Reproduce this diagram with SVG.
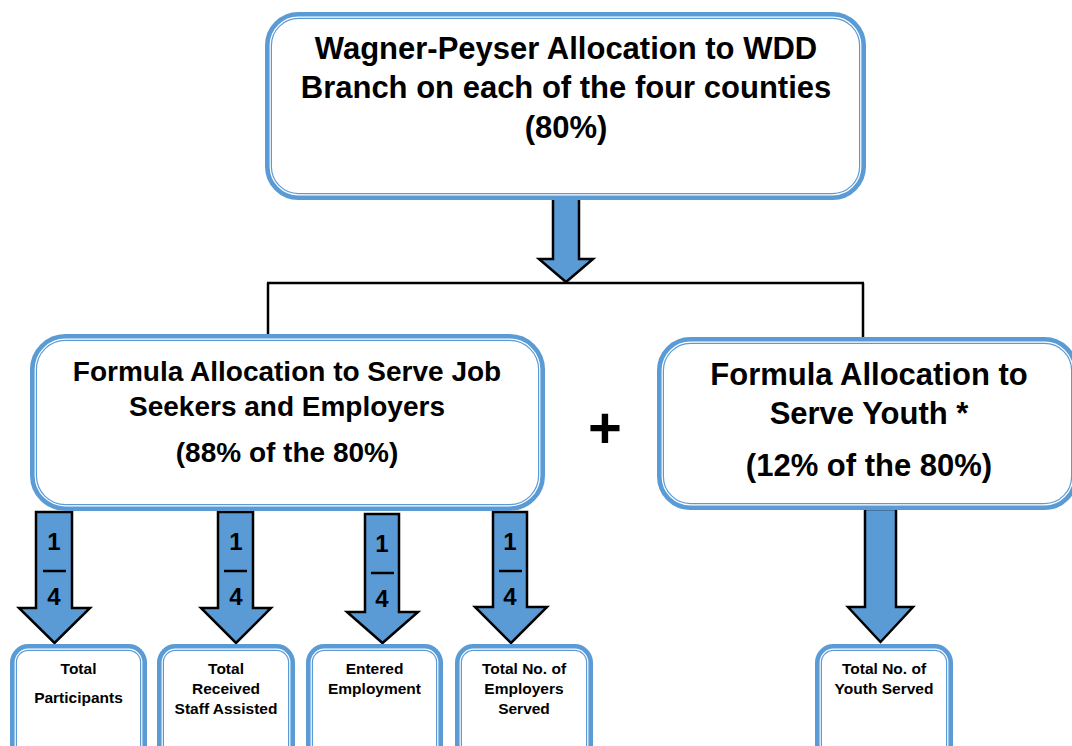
<svg xmlns="http://www.w3.org/2000/svg" width="1072" height="746" viewBox="0 0 1072 746">
<style>
.band{fill:#ffffff;stroke:#5b9bd5;stroke-width:7}
.inner{fill:none;stroke:#ffffff;stroke-width:1.2}
.arrow{fill:#5b9bd5;stroke:#000000;stroke-width:2.5;stroke-linejoin:miter}
.line{fill:none;stroke:#000000;stroke-width:2.5}
.t{font-family:"Liberation Sans",Arial,sans-serif;font-weight:bold;fill:#000000;text-anchor:middle}
.big{font-size:31px}
.mid{font-size:28px}
.mid2{font-size:31px}
.small{font-size:15.5px}
.frac{font-size:24px}
</style>
<rect width="1072" height="746" fill="#ffffff"/>

<g id="connectors">
  <path class="line" d="M267,283 H864"/>
  <path class="line" d="M268,283 V336"/>
  <path class="line" d="M863,283 V339"/>
  <path class="arrow" d="M553,196 H579 V259 H593 L566,282 L539,259 H553 Z"/>
  <path class="arrow" d="M36,512 H72 V608 H90 L54.5,643 L19,608 H36 Z"/>
  <path class="arrow" d="M218,512 H253 V608 H271 L236,643 L201,608 H218 Z"/>
  <path class="arrow" d="M365,514 H399 V612 H418 L382.5,643 L347,612 H365 Z"/>
  <path class="arrow" d="M493,512 H527 V607 H547 L511,643 L475,607 H493 Z"/>
  <path class="arrow" d="M865,509 H896 V607 H913 L880.5,642 L848,607 H865 Z"/>
  <g id="fractions">
    <text class="t frac" x="54" y="550">1</text>
    <path class="line" d="M43,571 H66"/>
    <text class="t frac" x="54" y="605">4</text>
    <text class="t frac" x="236" y="550">1</text>
    <path class="line" d="M224,571 H247"/>
    <text class="t frac" x="236" y="605">4</text>
    <text class="t frac" x="382" y="552">1</text>
    <path class="line" d="M371,573 H394"/>
    <text class="t frac" x="382" y="607">4</text>
    <text class="t frac" x="510" y="550">1</text>
    <path class="line" d="M499,571 H522"/>
    <text class="t frac" x="510" y="605">4</text>
  </g>
</g>

<g id="top">
  <rect class="band" x="268.5" y="15.5" width="594" height="181" rx="30"/>
  <rect class="inner" x="270.2" y="17.2" width="590.6" height="177.6" rx="28.3"/>
  <text class="t big" x="566" y="59">Wagner-Peyser Allocation to WDD</text>
  <text class="t big" x="566" y="98">Branch on each of the four counties</text>
  <text class="t big" x="566" y="138">(80%)</text>
</g>

<g id="jobseekers">
  <rect class="band" x="33.5" y="337.5" width="508" height="170" rx="32"/>
  <rect class="inner" x="35.2" y="339.2" width="504.6" height="166.6" rx="30.3"/>
  <text class="t mid" x="287" y="381">Formula Allocation to Serve Job</text>
  <text class="t mid" x="287" y="416">Seekers and Employers</text>
  <text class="t mid" x="287" y="462">(88% of the 80%)</text>
</g>

<g id="plus">
  <text class="t" style="font-size:58px" x="605" y="448">+</text>
</g>

<g id="youth">
  <rect class="band" x="660.5" y="340.5" width="414" height="166" rx="30"/>
  <rect class="inner" x="662.2" y="342.2" width="410.6" height="162.6" rx="28.3"/>
  <text class="t mid2" x="869" y="385">Formula Allocation to</text>
  <text class="t mid2" x="869" y="424">Serve Youth *</text>
  <text class="t mid2" x="869" y="476">(12% of the 80%)</text>
</g>

<g id="participants">
  <rect class="band" x="13.5" y="647.5" width="130" height="120" rx="15"/>
  <rect class="inner" x="15.2" y="649.2" width="126.6" height="116.6" rx="13.3"/>
  <text class="t small" x="78.5" y="674">Total</text>
  <text class="t small" x="78.5" y="703">Participants</text>
</g>

<g id="staffassisted">
  <rect class="band" x="160.5" y="647.5" width="131" height="120" rx="15"/>
  <rect class="inner" x="162.2" y="649.2" width="127.6" height="116.6" rx="13.3"/>
  <text class="t small" x="226" y="674">Total</text>
  <text class="t small" x="226" y="694">Received</text>
  <text class="t small" x="226" y="714">Staff Assisted</text>
</g>

<g id="employment">
  <rect class="band" x="309.5" y="647.5" width="130" height="120" rx="15"/>
  <rect class="inner" x="311.2" y="649.2" width="126.6" height="116.6" rx="13.3"/>
  <text class="t small" x="374.5" y="674">Entered</text>
  <text class="t small" x="374.5" y="694">Employment</text>
</g>

<g id="employers">
  <rect class="band" x="458.5" y="647.5" width="131" height="120" rx="15"/>
  <rect class="inner" x="460.2" y="649.2" width="127.6" height="116.6" rx="13.3"/>
  <text class="t small" x="524" y="674">Total No. of</text>
  <text class="t small" x="524" y="694">Employers</text>
  <text class="t small" x="524" y="714">Served</text>
</g>

<g id="youthserved">
  <rect class="band" x="818.5" y="647.5" width="131" height="120" rx="15"/>
  <rect class="inner" x="820.2" y="649.2" width="127.6" height="116.6" rx="13.3"/>
  <text class="t small" x="884" y="674">Total No. of</text>
  <text class="t small" x="884" y="694">Youth Served</text>
</g>
</svg>
